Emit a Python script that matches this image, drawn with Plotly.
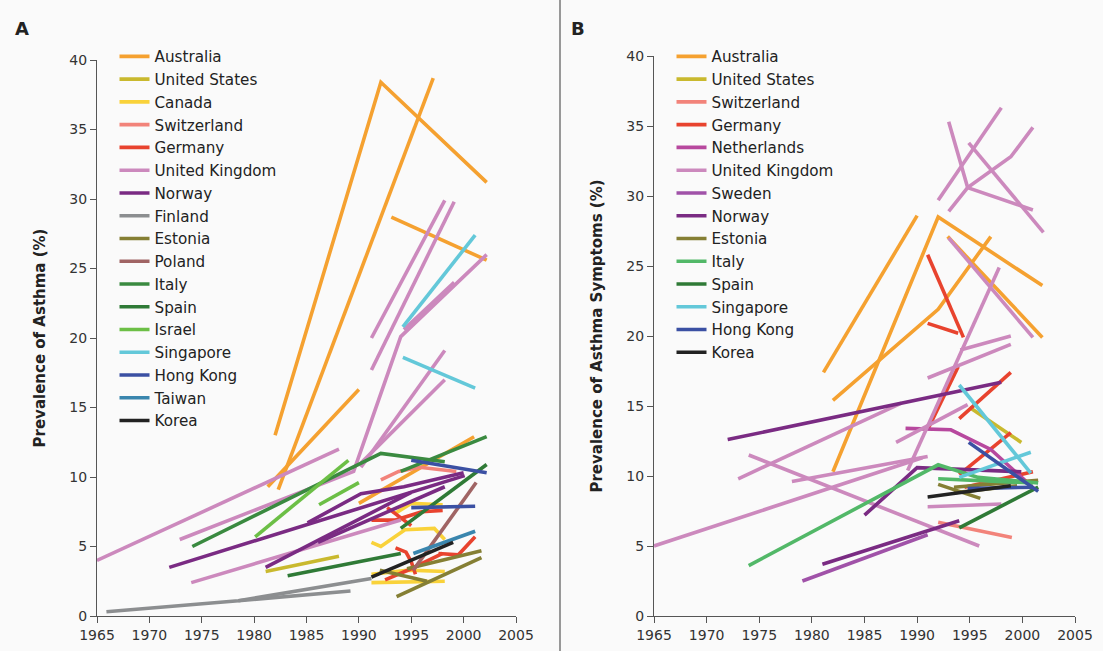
import plotly.graph_objects as go

W, H = 1103, 651

# ---------------- Panel A: Prevalence of Asthma (%) ----------------
# each country: list of line segments, each segment a list of (year, value)
A_AUSTRALIA = [
    [(1982.0, 13.0), (1992.1, 38.4), (2002.2, 31.2)],
    [(1982.3, 9.1), (1997.1, 38.7)],
    [(1981.3, 9.3), (1990.0, 16.3)],
    [(1993.1, 28.7), (2002.2, 25.6)],
    [(1990.0, 8.1), (2001.0, 12.9)],
]
A_UNITED_STATES = [[(1981.1, 3.2), (1988.1, 4.3)]]
A_CANADA = [
    [(1991.2, 5.3), (1992.1, 5.0), (1994.4, 6.2), (1997.2, 6.3), (1998.2, 5.5)],
    [(1993.5, 7.4), (1995.0, 8.1), (1998.0, 8.0)],
    [(1991.2, 2.4), (1998.2, 2.5)],
    [(1991.2, 3.0), (1994.8, 3.3), (1998.2, 3.2)],
]
A_SWITZERLAND = [[(1992.1, 9.8), (1993.8, 10.4), (1995.8, 10.7), (1999.3, 10.4)]]
A_GERMANY = [
    [(1991.2, 6.9), (1993.5, 6.9), (1996.0, 7.5), (1998.0, 7.6)],
    [(1992.7, 7.8), (1995.0, 6.5)],
    [(1993.5, 4.9), (1994.5, 4.6), (1995.0, 3.9), (1995.4, 3.0)],
    [(1997.6, 4.5), (1999.5, 4.4), (2001.1, 5.7)],
    [(1992.5, 2.6), (1995.0, 3.4), (1998.0, 4.5)],
]
A_UNITED_KINGDOM = [
    [(1965.0, 4.0), (1988.1, 12.0)],
    [(1972.9, 5.5), (1989.5, 10.4), (1994.0, 20.1), (2002.2, 26.0)],
    [(1991.2, 20.0), (1998.2, 29.9)],
    [(1991.2, 17.7), (1999.1, 29.8)],
    [(1994.3, 20.6), (1999.1, 24.0)],
    [(1990.2, 10.7), (1998.2, 19.1)],
    [(1990.2, 11.0), (1998.2, 17.0)],
    [(1974.0, 2.4), (1994.0, 6.9)],
]
A_NORWAY = [
    [(1971.9, 3.5), (2000.1, 10.1)],
    [(1981.1, 3.5), (1992.8, 8.1), (1995.0, 8.9)],
    [(1985.1, 6.7), (1990.2, 8.8), (1994.3, 9.3), (2000.0, 10.3)],
    [(1986.1, 5.3), (1998.2, 9.3)],
]
A_FINLAND = [
    [(1965.9, 0.3), (1978.5, 1.1), (1991.2, 2.7)],
    [(1978.5, 1.1), (1989.2, 1.8)],
]
A_ESTONIA = [
    [(1993.6, 1.4), (2001.7, 4.2)],
    [(1994.6, 3.4), (2001.7, 4.7)],
    [(1992.0, 3.3), (1996.5, 2.5)],
]
A_POLAND = [[(1995.2, 3.3), (2001.2, 9.6)]]
A_ITALY = [
    [(1974.1, 5.0), (1992.1, 11.7), (1998.2, 11.1)],
    [(1994.0, 10.4), (2002.2, 12.9)],
]
A_SPAIN = [
    [(1994.0, 6.3), (2002.2, 10.9)],
    [(1983.2, 2.9), (1994.0, 4.5)],
]
A_ISRAEL = [
    [(1980.1, 5.7), (1989.0, 11.2)],
    [(1986.2, 8.0), (1990.0, 9.6)],
]
A_SINGAPORE = [
    [(1994.2, 20.8), (2001.1, 27.4)],
    [(1994.2, 18.6), (2001.1, 16.4)],
]
A_HONG_KONG = [
    [(1995.0, 11.2), (2002.2, 10.3)],
    [(1995.0, 7.8), (2001.1, 7.9)],
]
A_TAIWAN = [[(1995.2, 4.5), (2001.1, 6.1)]]
A_KOREA = [[(1991.2, 2.8), (1999.0, 5.3)]]

# ---------------- Panel B: Prevalence of Asthma Symptoms (%) ----------------
B_AUSTRALIA = [
    [(1981.1, 17.4), (1990.0, 28.6)],
    [(1982.0, 15.4), (1992.0, 21.9), (1997.0, 27.1)],
    [(1982.0, 10.3), (1992.0, 28.5), (2001.9, 23.6)],
    [(1992.9, 27.1), (2001.9, 19.9)],
]
B_UNITED_STATES = [[(1995.0, 14.9), (1999.9, 12.4)]]
B_SWITZERLAND = [[(1992.0, 6.7), (1999.0, 5.6)]]
B_GERMANY = [
    [(1991.0, 25.8), (1994.4, 19.9)],
    [(1991.0, 20.9), (1993.9, 20.2)],
    [(1991.0, 13.3), (1993.9, 17.8)],
    [(1994.0, 14.1), (1998.9, 17.4)],
    [(1994.0, 10.1), (1998.9, 13.1)],
    [(1994.5, 9.2), (2001.0, 10.3)],
]
B_NETHERLANDS = [[(1988.9, 13.4), (1993.2, 13.3), (1997.0, 11.9), (2001.1, 9.1)]]
B_UNITED_KINGDOM = [
    [(1965.0, 5.0), (1990.5, 11.3)],
    [(1974.0, 11.5), (1995.9, 5.0)],
    [(1973.0, 9.8), (1988.5, 15.2)],
    [(1978.1, 9.6), (1991.0, 11.4)],
    [(1988.0, 12.4), (1994.8, 15.1)],
    [(1991.0, 17.0), (1998.9, 19.4)],
    [(1989.1, 10.4), (1997.8, 24.9)],
    [(1994.1, 19.0), (1998.9, 20.0)],
    [(1992.0, 29.7), (1998.0, 36.3)],
    [(1993.0, 35.3), (1994.8, 30.6), (2001.0, 29.0)],
    [(1993.0, 28.9), (1994.8, 30.6), (1998.9, 32.8), (2001.0, 34.9)],
    [(1994.9, 33.8), (2002.0, 27.4)],
    [(1993.0, 27.0), (2001.0, 19.9)],
    [(1991.0, 7.8), (1998.0, 8.0)],
]
B_SWEDEN = [[(1979.1, 2.5), (1991.0, 5.8)]]
B_NORWAY = [
    [(1972.0, 12.6), (1998.0, 16.7)],
    [(1981.0, 3.7), (1994.0, 6.8)],
    [(1985.0, 7.2), (1990.0, 10.6), (1999.9, 10.3)],
]
B_ESTONIA = [
    [(1992.0, 9.4), (1996.0, 8.4)],
    [(1993.5, 9.2), (2001.5, 9.7)],
    [(1993.5, 8.8), (1999.5, 9.3)],
]
B_ITALY = [
    [(1974.0, 3.6), (1992.0, 10.8), (1995.8, 9.9), (2001.5, 9.5)],
    [(1992.0, 9.8), (2001.0, 9.5)],
]
B_SPAIN = [[(1994.0, 6.3), (2001.5, 9.2)]]
B_SINGAPORE = [
    [(1994.0, 16.5), (2000.8, 10.2)],
    [(1994.0, 9.9), (2000.8, 11.7)],
]
B_HONG_KONG = [
    [(1994.9, 12.4), (2001.5, 8.9)],
    [(1994.8, 9.1), (2001.0, 9.2)],
]
B_KOREA = [[(1991.0, 8.5), (1998.9, 9.3)]]

YEAR_TICKS = [1965, 1970, 1975, 1980, 1985, 1990, 1995, 2000, 2005]
VALUE_TICKS = [0, 5, 10, 15, 20, 25, 30, 35, 40]

COLORS = {
    "Australia": "#F5A130",
    "United States": "#C9B92E",
    "Canada": "#F9D23A",
    "Switzerland": "#F2837A",
    "Germany": "#E8432E",
    "Netherlands": "#B7489E",
    "United Kingdom": "#CC89BD",
    "Sweden": "#A052A8",
    "Norway": "#7A2B83",
    "Finland": "#8C8E90",
    "Estonia": "#857F34",
    "Poland": "#A06464",
    "Italy": "#3A8A40",
    "Spain": "#2F7A36",
    "Israel": "#6CBF46",
    "Singapore": "#63C8D9",
    "Hong Kong": "#3B50A3",
    "Taiwan": "#3A86AE",
    "Korea": "#222222",
}
ITALY_B_COLOR = "#52B868"

PANEL_A = [
    ("Australia", A_AUSTRALIA), ("United States", A_UNITED_STATES),
    ("Canada", A_CANADA), ("Switzerland", A_SWITZERLAND),
    ("Germany", A_GERMANY), ("United Kingdom", A_UNITED_KINGDOM),
    ("Norway", A_NORWAY), ("Finland", A_FINLAND), ("Estonia", A_ESTONIA),
    ("Poland", A_POLAND), ("Italy", A_ITALY), ("Spain", A_SPAIN),
    ("Israel", A_ISRAEL), ("Singapore", A_SINGAPORE),
    ("Hong Kong", A_HONG_KONG), ("Taiwan", A_TAIWAN), ("Korea", A_KOREA),
]
PANEL_B = [
    ("Australia", B_AUSTRALIA), ("United States", B_UNITED_STATES),
    ("Switzerland", B_SWITZERLAND), ("Germany", B_GERMANY),
    ("Netherlands", B_NETHERLANDS), ("United Kingdom", B_UNITED_KINGDOM),
    ("Sweden", B_SWEDEN), ("Norway", B_NORWAY), ("Estonia", B_ESTONIA),
    ("Italy", B_ITALY), ("Spain", B_SPAIN), ("Singapore", B_SINGAPORE),
    ("Hong Kong", B_HONG_KONG), ("Korea", B_KOREA),
]


def flatten(segments):
    xs, ys = [], []
    for seg in segments:
        for (x, y) in seg:
            xs.append(x)
            ys.append(y)
        xs.append(None)
        ys.append(None)
    return xs, ys


FONT = "DejaVu Sans"
fig = go.Figure()

for name, segs in PANEL_A:
    xs, ys = flatten(segs)
    fig.add_trace(go.Scatter(
        x=xs, y=ys, mode="lines", name=name, xaxis="x", yaxis="y",
        line=dict(color=COLORS[name], width=3.6), legend="legend",
        connectgaps=False, hoverinfo="skip"))

for name, segs in PANEL_B:
    xs, ys = flatten(segs)
    col = ITALY_B_COLOR if name == "Italy" else COLORS[name]
    fig.add_trace(go.Scatter(
        x=xs, y=ys, mode="lines", name=name, xaxis="x2", yaxis="y2",
        line=dict(color=col, width=3.6), legend="legend2",
        connectgaps=False, hoverinfo="skip"))

# plot area in pixels
L, R, T, B = 97, 28, 56, 35
PW, PH = W - L - R, H - T - B


def px(x):
    return (x - L) / PW


def py(y):
    return (H - B - y) / PH


axis_common = dict(
    showgrid=False, zeroline=False, showline=True, linecolor="#555555",
    linewidth=1.3, ticks="outside", ticklen=6, tickcolor="#555555",
    automargin=False,
    tickfont=dict(family=FONT, size=14, color="#333333"),
)
title_font = dict(family=FONT, size=15, color="#222222", weight="bold")
legend_font = dict(family=FONT, size=15.2, color="#222222")

fig.update_layout(
    width=W, height=H,
    margin=dict(l=L, r=R, t=T, b=B, autoexpand=False),
    paper_bgcolor="#FAFAFA", plot_bgcolor="#FAFAFA",
    xaxis=dict(domain=[px(97), px(516)], range=[1965, 2005],
               tickvals=YEAR_TICKS, anchor="y", **axis_common),
    yaxis=dict(domain=[py(616), py(60)], range=[0, 40],
               tickvals=VALUE_TICKS, anchor="x",
               title=dict(text="Prevalence of Asthma (%)", standoff=19,
                          font=title_font),
               **axis_common),
    xaxis2=dict(domain=[px(654), px(1075)], range=[1965, 2005],
                tickvals=YEAR_TICKS, anchor="y2", **axis_common),
    yaxis2=dict(domain=[py(616), py(56)], range=[0, 40],
                tickvals=VALUE_TICKS, anchor="x2",
                title=dict(text="Prevalence of Asthma Symptoms (%)", standoff=19,
                           font=title_font),
                **axis_common),
    legend=dict(x=px(114.5), y=py(40), xanchor="left", yanchor="top",
                bgcolor="rgba(0,0,0,0)", tracegroupgap=0, itemwidth=30,
                maxheight=560, font=legend_font),
    legend2=dict(x=px(671.5), y=py(40), xanchor="left", yanchor="top",
                 bgcolor="rgba(0,0,0,0)", tracegroupgap=0, itemwidth=30,
                 maxheight=560, font=legend_font),
    shapes=[dict(type="line", xref="paper", yref="paper",
                 x0=px(560), x1=px(560), y0=py(H), y1=py(0),
                 line=dict(color="#777777", width=1.5))],
    annotations=[
        dict(text="<b>A</b>", xref="paper", yref="paper", x=px(13), y=py(16),
             xanchor="left", yanchor="top", showarrow=False,
             font=dict(family=FONT, size=18, color="#222222")),
        dict(text="<b>B</b>", xref="paper", yref="paper", x=px(569), y=py(16),
             xanchor="left", yanchor="top", showarrow=False,
             font=dict(family=FONT, size=18, color="#222222")),
    ],
)

fig.write_html("out.html",
               config={"displayModeBar": False},
               post_script="document.body.style.margin='0';"
                           "document.body.style.background='#FAFAFA';")
